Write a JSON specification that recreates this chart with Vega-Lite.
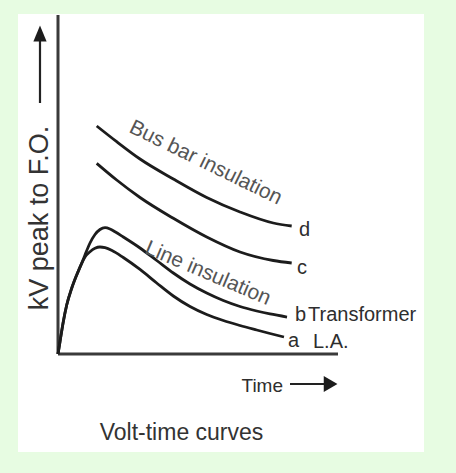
{
  "$schema": "https://vega.github.io/schema/vega-lite/v6.json",
  "width": 406,
  "height": 438,
  "autosize": {"type": "none"},
  "padding": {"left": 18, "top": 14, "right": 32, "bottom": 21},
  "background": "#e7fce2",
  "config": {"view": {"fill": "#ffffff", "stroke": null}},
  "encoding": {
    "x": {"field": "t", "type": "quantitative", "axis": null, "scale": {"domain": [-1.4286, 13.0714], "nice": false, "zero": false}},
    "y": {"field": "v", "type": "quantitative", "axis": null, "scale": {"domain": [-2.891, 10.0295], "nice": false, "zero": false}}
  },
  "layer": [
    {
      "data": {"values": [
        {"t": 0, "v": 0, "t2": 0, "v2": 10},
        {"t": 0, "v": 0, "t2": 10, "v2": 0}
      ]},
      "mark": {"type": "rule", "color": "#3a3a3a", "strokeWidth": 3, "strokeCap": "butt"},
      "encoding": {"x2": {"field": "t2"}, "y2": {"field": "v2"}}
    },
    {
      "data": {"values": [
        {"curve": "d", "t": 1.382, "v": 6.726},
        {"curve": "d", "t": 2.096, "v": 6.263},
        {"curve": "d", "t": 2.929, "v": 5.752},
        {"curve": "d", "t": 4.118, "v": 5.162},
        {"curve": "d", "t": 5.311, "v": 4.617},
        {"curve": "d", "t": 6.5, "v": 4.189},
        {"curve": "d", "t": 7.689, "v": 3.864},
        {"curve": "d", "t": 8.346, "v": 3.776},
        {"curve": "c", "t": 1.382, "v": 5.625},
        {"curve": "c", "t": 2.096, "v": 5.133},
        {"curve": "c", "t": 2.929, "v": 4.617},
        {"curve": "c", "t": 4.118, "v": 4.003},
        {"curve": "c", "t": 5.311, "v": 3.451},
        {"curve": "c", "t": 6.5, "v": 3.009},
        {"curve": "c", "t": 7.689, "v": 2.758},
        {"curve": "c", "t": 8.346, "v": 2.684},
        {"curve": "b", "t": 0, "v": 0},
        {"curve": "b", "t": 0.071, "v": 0.363},
        {"curve": "b", "t": 0.189, "v": 0.953},
        {"curve": "b", "t": 0.311, "v": 1.445},
        {"curve": "b", "t": 0.489, "v": 1.938},
        {"curve": "b", "t": 0.668, "v": 2.33},
        {"curve": "b", "t": 0.846, "v": 2.676},
        {"curve": "b", "t": 0.964, "v": 2.92},
        {"curve": "b", "t": 1.143, "v": 3.274},
        {"curve": "b", "t": 1.321, "v": 3.525},
        {"curve": "b", "t": 1.5, "v": 3.673},
        {"curve": "b", "t": 1.679, "v": 3.726},
        {"curve": "b", "t": 1.857, "v": 3.687},
        {"curve": "b", "t": 2.036, "v": 3.605},
        {"curve": "b", "t": 2.332, "v": 3.451},
        {"curve": "b", "t": 2.929, "v": 3.127},
        {"curve": "b", "t": 3.525, "v": 2.758},
        {"curve": "b", "t": 4.118, "v": 2.389},
        {"curve": "b", "t": 4.714, "v": 2.065},
        {"curve": "b", "t": 5.311, "v": 1.799},
        {"curve": "b", "t": 5.904, "v": 1.578},
        {"curve": "b", "t": 6.5, "v": 1.401},
        {"curve": "b", "t": 7.096, "v": 1.268},
        {"curve": "b", "t": 7.571, "v": 1.18},
        {"curve": "b", "t": 8.179, "v": 1.091},
        {"curve": "a", "t": 0, "v": 0},
        {"curve": "a", "t": 0.071, "v": 0.363},
        {"curve": "a", "t": 0.189, "v": 0.953},
        {"curve": "a", "t": 0.311, "v": 1.445},
        {"curve": "a", "t": 0.489, "v": 1.938},
        {"curve": "a", "t": 0.668, "v": 2.33},
        {"curve": "a", "t": 0.846, "v": 2.676},
        {"curve": "a", "t": 0.964, "v": 2.861},
        {"curve": "a", "t": 1.143, "v": 3.018},
        {"curve": "a", "t": 1.321, "v": 3.118},
        {"curve": "a", "t": 1.5, "v": 3.156},
        {"curve": "a", "t": 1.679, "v": 3.136},
        {"curve": "a", "t": 1.929, "v": 3.053},
        {"curve": "a", "t": 2.332, "v": 2.847},
        {"curve": "a", "t": 2.929, "v": 2.493},
        {"curve": "a", "t": 3.525, "v": 2.094},
        {"curve": "a", "t": 4.118, "v": 1.711},
        {"curve": "a", "t": 4.714, "v": 1.401},
        {"curve": "a", "t": 5.311, "v": 1.165},
        {"curve": "a", "t": 5.904, "v": 0.988},
        {"curve": "a", "t": 6.5, "v": 0.841},
        {"curve": "a", "t": 7.096, "v": 0.708},
        {"curve": "a", "t": 7.571, "v": 0.605},
        {"curve": "a", "t": 8.071, "v": 0.501}
      ]},
      "mark": {"type": "line", "interpolate": "monotone", "color": "#1c1c1c", "strokeWidth": 2.8},
      "encoding": {"detail": {"field": "curve", "type": "nominal"}}
    },
    {
      "data": {"values": [
        {"t": -0.643, "v": 7.404, "t2": -0.643, "v2": 9.25},
        {"t": 8.286, "v": -0.885, "t2": 9.55, "v2": -0.885}
      ]},
      "mark": {"type": "rule", "color": "#222222", "strokeWidth": 2.2},
      "encoding": {"x2": {"field": "t2"}, "y2": {"field": "v2"}}
    },
    {
      "data": {"values": [
        {"dir": "up", "t": -0.643, "v": 9.454},
        {"dir": "right", "t": 9.736, "v": -0.885}
      ]},
      "mark": {"type": "point", "filled": true, "color": "#1c1c1c", "opacity": 1, "size": 260, "strokeWidth": 0},
      "encoding": {
        "shape": {"field": "dir", "type": "nominal", "legend": null, "scale": {"domain": ["up", "right"], "range": ["M-0.82,1L0,-1L0.82,1Z", "M-0.85,-1L0.85,0L-0.85,1Z"]}}
      }
    },
    {
      "data": {"values": [
        {"label": "d", "t": 8.607, "v": 3.481},
        {"label": "c", "t": 8.536, "v": 2.36},
        {"label": "b", "t": 8.464, "v": 0.959},
        {"label": "a", "t": 8.214, "v": 0.215},
        {"label": "Transformer", "t": 8.929, "v": 0.973},
        {"label": "L.A.", "t": 9.107, "v": 0.177}
      ]},
      "mark": {"type": "text", "align": "left", "baseline": "alphabetic", "font": "Liberation Sans", "fontSize": 20, "color": "#2e2e2e"},
      "encoding": {"text": {"field": "label"}}
    },
    {
      "data": {"values": [{"label": "Time", "t": 8.036, "v": -1.112}]},
      "mark": {"type": "text", "align": "right", "baseline": "alphabetic", "font": "Liberation Sans", "fontSize": 19, "color": "#2e2e2e"},
      "encoding": {"text": {"field": "label"}}
    },
    {
      "data": {"values": [{"label": "Volt-time curves", "t": 4.411, "v": -2.537}]},
      "mark": {"type": "text", "align": "center", "baseline": "alphabetic", "font": "Liberation Sans", "fontSize": 23, "color": "#333333"},
      "encoding": {"text": {"field": "label"}}
    },
    {
      "data": {"values": [{"label": "kV peak to F.O.", "t": -0.643, "v": 4.012}]},
      "mark": {"type": "text", "align": "center", "baseline": "middle", "angle": 270, "font": "Liberation Sans", "fontSize": 27, "color": "#333333"},
      "encoding": {"text": {"field": "label"}}
    },
    {
      "data": {"values": [{"label": "Bus bar insulation", "t": 5.179, "v": 5.478}]},
      "mark": {"type": "text", "align": "center", "baseline": "alphabetic", "angle": 26, "font": "Liberation Sans", "fontSize": 21, "color": "#555555"},
      "encoding": {"text": {"field": "label"}}
    },
    {
      "data": {"values": [{"label": "Line insulation", "t": 5.268, "v": 2.21}]},
      "mark": {"type": "text", "align": "center", "baseline": "alphabetic", "angle": 23, "font": "Liberation Sans", "fontSize": 21, "color": "#555555"},
      "encoding": {"text": {"field": "label"}}
    }
  ]
}
